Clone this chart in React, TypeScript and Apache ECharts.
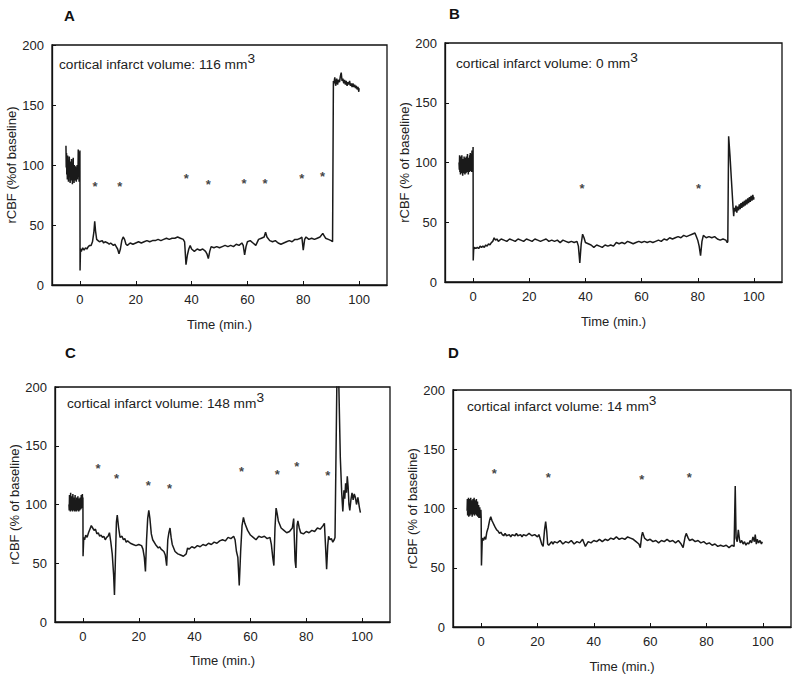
import React, { useEffect, useRef } from "react";
import * as echarts from "echarts";

// ---- Data (time in min, rCBF in % of baseline) ----
const traceA: [number, number][] = [
  [-5.0,116],[-4.9,98],[-4.8,110],[-4.7,92],[-4.6,105],[-4.5,88],[-4.4,108],[-4.3,95],[-4.2,102],[-4.1,86],[-4.0,104],[-3.9,93],[-3.8,107],[-3.7,90],[-3.6,100],[-3.5,85],[-3.4,103],[-3.3,94],[-3.2,99],[-3.1,87],[-3.0,105],[-2.9,92],[-2.8,101],[-2.7,84],[-2.6,98],[-2.5,90],[-2.4,106],[-2.3,88],[-2.2,97],[-2.1,85],[-2.0,100],[-1.9,91],[-1.8,96],[-1.7,87],[-1.6,99],[-1.5,89],[-1.4,95],[-1.3,86],[-1.2,98],[-1.1,92],[-1.0,100],[-0.9,88],[-0.8,96],[-0.7,90],[-0.6,113],[-0.5,92],[-0.4,111],[-0.3,86],[-0.2,104],[-0.1,94],[0.0,112],
  [0.05,12],[0.2,30],[0.5,28],[1,31],[1.5,29],[2,31],[2.5,30],[3,32],[3.5,33],[4,33],[4.5,36],[5,44],[5.3,53],[5.6,45],[6,38],[6.5,37],[7,36],[8,37],[8.5,35],[9,36],[10,35],[10.5,34],[11,35],[12,33],[12.5,34],[13,32],[13.5,30],[14,26],[14.5,30],[15,37],[15.5,40],[16,38],[16.5,34],[17,33],[18,35],[19,34],[20,35],[21,36],[22,35],[23,36],[24,37],[25,36],[26,37],[27,37],[28,38],[29,37],[30,38],[31,39],[32,38],[33,39],[34,39],[35,40],[36,39],[37,38],[37.5,36],[38,17],[38.5,25],[39,30],[39.5,33],[40,30],[41,28],[42,30],[43,29],[44,30],[45,28],[45.5,26],[46,22],[46.5,28],[47,32],[48,31],[49,32],[50,31],[51,32],[52,33],[53,32],[54,33],[55,32],[56,34],[57,33],[58,35],[58.5,33],[59,25],[59.5,32],[60,36],[61,37],[62,35],[63,33],[64,38],[65,39],[66,40],[66.5,44],[67,40],[68,37],[69,36],[70,37],[71,35],[72,34],[73,35],[74,36],[75,37],[76,36],[77,38],[78,38],[79,39],[79.5,40],[80,29],[80.5,38],[81,40],[82,38],[83,39],[84,38],[85,39],[86,40],[87,43],[87.5,41],[88,39],[89,38],[90,37],[90.5,36],
  [90.8,170],[91,168],[91.3,173],[91.6,166],[92,172],[92.3,167],[92.6,171],[93,169],[93.3,174],[93.6,177],[93.9,170],[94.2,172],[94.5,168],[94.8,171],[95.1,167],[95.4,170],[95.7,166],[96,169],[96.3,167],[96.6,170],[96.9,166],[97.2,168],[97.5,165],[97.8,168],[98.1,165],[98.4,167],[98.7,164],[99,166],[99.3,163],[99.6,165],[99.9,161],[100,164]
];
const starsA: [number, number][] = [[5.4,85],[14.3,85],[38.1,91],[46,86],[58.8,87],[66.3,87],[79.5,91],[86.9,93]];

const traceB: [number, number][] = [
  [-5.0,100],[-4.9,94],[-4.8,106],[-4.7,92],[-4.6,104],[-4.5,90],[-4.4,105],[-4.3,93],[-4.2,102],[-4.1,91],[-4.0,106],[-3.9,94],[-3.8,101],[-3.7,89],[-3.6,103],[-3.5,95],[-3.4,100],[-3.3,91],[-3.2,105],[-3.1,94],[-3.0,99],[-2.9,90],[-2.8,104],[-2.7,93],[-2.6,102],[-2.5,91],[-2.4,105],[-2.3,95],[-2.2,100],[-2.1,92],[-2.0,107],[-1.9,94],[-1.8,103],[-1.7,90],[-1.6,104],[-1.5,95],[-1.4,101],[-1.3,92],[-1.2,106],[-1.1,96],[-1.0,108],[-0.9,93],[-0.8,102],[-0.7,95],[-0.6,107],[-0.5,92],[-0.4,110],[-0.3,96],[-0.2,108],[-0.1,100],[0.0,113],
  [0.05,18],[0.2,27],[0.5,29],[1,28],[1.5,29],[2,28],[2.5,30],[3,29],[3.5,30],[4,29],[4.5,31],[5,30],[5.5,32],[6,31],[6.5,33],[7,34],[7.5,37],[8,35],[8.5,36],[9,34],[10,36],[11,35],[12,34],[13,36],[14,35],[15,34],[16,36],[17,35],[18,34],[19,36],[20,35],[21,34],[22,36],[23,35],[24,34],[25,35],[26,36],[27,34],[28,35],[29,34],[30,35],[31,33],[32,35],[33,34],[34,33],[35,34],[36,33],[37,34],[37.5,30],[38,16],[38.5,32],[39,40],[39.5,37],[40,33],[41,32],[42,31],[43,29],[44,31],[45,30],[46,29],[47,31],[48,30],[49,31],[50,30],[51,33],[52,32],[53,33],[54,32],[55,34],[56,33],[57,32],[58,33],[59,34],[60,33],[61,34],[62,33],[63,34],[64,33],[65,34],[66,35],[67,34],[68,36],[69,35],[70,37],[71,36],[72,37],[73,38],[74,37],[75,39],[76,38],[77,39],[78,40],[79,41],[79.5,38],[80,35],[80.5,30],[81,22],[81.5,34],[82,39],[83,37],[84,38],[85,37],[86,38],[87,36],[88,35],[89,36],[90,35],[90.5,33],
  [90.7,34],[91,122],[91.5,105],[92,85],[92.5,65],[92.8,55],[93,62],[93.3,59],[93.6,64],[93.9,58],[94.2,63],[94.5,60],[94.8,65],[95.1,61],[95.4,66],[95.7,62],[96,67],[96.3,63],[96.6,68],[96.9,64],[97.2,69],[97.5,65],[97.8,70],[98.1,66],[98.4,71],[98.7,67],[99,72],[99.3,68],[99.6,73],[99.9,69],[100,71]
];
const starsB: [number, number][] = [[38.8,81],[80.3,81]];

const traceC: [number, number][] = [
  [-5.0,100],[-4.9,95],[-4.8,108],[-4.7,96],[-4.6,104],[-4.5,94],[-4.4,110],[-4.3,97],[-4.2,105],[-4.1,95],[-4.0,107],[-3.9,96],[-3.8,103],[-3.7,94],[-3.6,109],[-3.5,98],[-3.4,104],[-3.3,95],[-3.2,106],[-3.1,97],[-3.0,102],[-2.9,94],[-2.8,108],[-2.7,96],[-2.6,103],[-2.5,95],[-2.4,100],[-2.3,94],[-2.2,106],[-2.1,97],[-2.0,104],[-1.9,95],[-1.8,107],[-1.7,96],[-1.6,102],[-1.5,94],[-1.4,105],[-1.3,97],[-1.2,101],[-1.1,95],[-1.0,106],[-0.9,98],[-0.8,103],[-0.7,96],[-0.6,108],[-0.5,99],[-0.4,104],[-0.3,97],[-0.2,109],[-0.1,101],[0.0,106],
  [0.05,56],[0.3,72],[0.6,70],[1,74],[1.5,72],[2,76],[2.5,79],[3,82],[3.5,80],[4,78],[4.5,79],[5,75],[5.5,76],[6,73],[6.5,74],[7,72],[7.5,73],[8,70],[8.5,72],[9,73],[9.5,76],[10,68],[10.5,58],[11,40],[11.3,23],[11.6,50],[12,85],[12.3,91],[12.8,80],[13.3,72],[14,73],[14.5,70],[15,71],[15.5,68],[16,69],[17,67],[18,66],[19,65],[20,66],[21,65],[21.5,62],[22,55],[22.4,43],[22.8,70],[23.2,88],[23.6,95],[24,88],[24.5,75],[25,70],[26,66],[27,63],[27.5,64],[28,62],[29,60],[29.5,57],[30,48],[30.4,70],[30.8,76],[31.2,80],[31.6,72],[32,66],[33,60],[34,58],[35,57],[36,56],[37,58],[37.5,63],[38,62],[39,64],[40,63],[41,65],[42,64],[43,66],[44,65],[45,67],[46,66],[47,68],[48,67],[49,69],[50,70],[51,69],[52,72],[53,71],[54,73],[54.5,70],[55,60],[55.5,55],[56,31],[56.5,60],[57,82],[57.5,89],[58,84],[59,78],[60,74],[61,72],[62,70],[63,73],[64,72],[65,73],[66,71],[67,72],[67.5,66],[68,55],[68.4,48],[68.8,80],[69.2,97],[69.6,92],[70,86],[71,80],[72,78],[73,76],[74,77],[75,80],[75.5,88],[76,52],[76.3,46],[76.7,82],[77,86],[77.5,80],[78,76],[79,75],[80,77],[81,76],[82,78],[83,77],[84,80],[85,79],[86,82],[86.5,84],[87,60],[87.3,45],[87.7,65],[88,73],[88.5,70],[89,71],[89.5,68],[90,70],[90.3,72],
  [90.6,130],[91,210],[91.6,210],[92.2,140],[92.7,110],[93.1,94],[93.5,112],[93.8,105],[94.1,118],[94.4,110],[94.7,124],[95,115],[95.3,100],[95.6,95],[96,104],[96.4,110],[96.8,104],[97.2,109],[97.6,106],[98,100],[98.5,106],[99,98],[99.4,93]
];
const starsC: [number, number][] = [[5.4,133],[12,125],[23.4,119],[31,116],[56.8,131],[69.6,128],[76.6,135],[87.7,127]];

const traceD: [number, number][] = [
  [-5.0,98],[-4.9,108],[-4.8,94],[-4.7,106],[-4.6,96],[-4.5,109],[-4.4,93],[-4.3,104],[-4.2,97],[-4.1,108],[-4.0,94],[-3.9,105],[-3.8,98],[-3.7,109],[-3.6,95],[-3.5,103],[-3.4,96],[-3.3,107],[-3.2,93],[-3.1,104],[-3.0,97],[-2.9,108],[-2.8,95],[-2.7,105],[-2.6,99],[-2.5,109],[-2.4,94],[-2.3,103],[-2.2,96],[-2.1,107],[-2.0,95],[-1.9,104],[-1.8,98],[-1.7,108],[-1.6,94],[-1.5,102],[-1.4,96],[-1.3,106],[-1.2,93],[-1.1,101],[-1.0,95],[-0.9,103],[-0.8,92],[-0.7,99],[-0.6,94],[-0.5,101],[-0.4,92],[-0.3,98],[-0.2,95],[-0.1,99],[0.0,92],
  [0.1,52],[0.4,75],[0.8,73],[1.2,76],[1.6,74],[2,80],[2.5,84],[3,90],[3.4,93],[3.8,90],[4.2,88],[4.6,86],[5,84],[5.5,82],[6,81],[6.5,79],[7,80],[7.5,78],[8,77],[8.5,79],[9,77],[10,78],[10.5,76],[11,78],[12,77],[12.5,79],[13,77],[14,78],[14.5,76],[15,78],[16,77],[17,79],[18,77],[19,78],[20,76],[20.5,78],[21,74],[21.5,70],[22,68],[22.5,82],[22.9,89],[23.3,80],[23.6,70],[24,69],[25,72],[25.5,70],[26,72],[27,71],[28,73],[29,70],[30,72],[31,71],[32,73],[33,70],[34,72],[35,71],[36,74],[37,68],[38,72],[39,71],[40,73],[41,72],[42,74],[43,72],[44,74],[45,73],[46,75],[47,74],[48,76],[49,74],[50,75],[51,74],[52,76],[53,75],[54,74],[55,72],[56,70],[56.5,67],[57,77],[57.3,80],[58,75],[59,73],[60,74],[61,72],[62,73],[63,71],[64,73],[65,72],[66,74],[67,72],[68,73],[69,71],[70,73],[71,70],[71.7,67],[72.4,76],[72.8,79],[73.5,75],[74,73],[75,74],[76,72],[77,73],[78,71],[79,72],[80,70],[81,71],[82,69],[83,70],[84,68],[85,69],[86,68],[87,69],[88,67],[89,69],[89.8,68],[90.2,119],[90.5,75],[90.9,72],[91.3,82],[91.7,74],[92,71],[92.5,73],[93,70],[93.5,72],[94,69],[94.5,71],[95,70],[95.5,73],[96,71],[96.5,76],[97,72],[97.3,78],[97.7,70],[98,74],[98.5,71],[99,73],[99.5,70],[99.8,72]
];
const starsD: [number, number][] = [[4.7,132],[23.8,129],[57,127],[73.9,129]];

const xTicks = [0, 20, 40, 60, 80, 100];
const panelLetters = ["A", "B", "C", "D"];
const infarctVolumes = ["116", "0", "148", "14"];
const yTitles = ["rCBF (%of baseline)", "rCBF (% of baseline)", "rCBF (% of baseline)", "rCBF (% of baseline)"];
const xTitle = "Time (min.)";

const traces = [traceA, traceB, traceC, traceD];
const stars = [starsA, starsB, starsC, starsD];

// layout
const grids = [
  { left: 52, top: 45, width: 335, height: 240 },
  { left: 445, top: 43, width: 337, height: 239 },
  { left: 55, top: 387, width: 335, height: 235 },
  { left: 453, top: 390, width: 338, height: 237 },
];
const yNameGaps = [31, 29, 33, 32];
const xNameGaps = [33, 33, 32, 33];
const letterPos = [[64, 8], [449, 6], [65, 345], [448, 345]];
const notePos = [[59, 51], [456, 50], [67, 390], [467, 393]];

const FONT = "'Liberation Sans', Arial, sans-serif";

export default function App() {
  const ref = useRef<HTMLDivElement>(null);
  useEffect(() => {
    if (!ref.current) return;
    const chart = echarts.init(ref.current, undefined, { renderer: "svg" });
    const axisLine = { show: true, onZero: false, lineStyle: { color: "#111", width: 1.3 } };
    const option: any = {
      animation: false,
      backgroundColor: "#fff",
      textStyle: { fontFamily: FONT },
      grid: grids.map((g) => ({
        ...g,
        show: true,
        borderColor: "#111",
        borderWidth: 1.3,
        backgroundColor: "transparent",
        containLabel: false,
        outerBoundsMode: "none",
      })),
      xAxis: grids.map((_, i) => ({
        type: "value",
        gridIndex: i,
        min: -10,
        max: 110,
        name: xTitle,
        nameLocation: "middle",
        nameGap: xNameGaps[i],
        nameTextStyle: { fontSize: 13, color: "#222", fontFamily: FONT },
        axisLine,
        axisTick: { show: true, inside: true, length: 4, lineStyle: { color: "#111" }, customValues: xTicks },
        axisLabel: { fontSize: 13, color: "#222", margin: 8, fontFamily: FONT, customValues: xTicks },
        splitLine: { show: false },
      })),
      yAxis: grids.map((_, i) => ({
        type: "value",
        gridIndex: i,
        min: 0,
        max: 200,
        interval: 50,
        name: yTitles[i],
        nameLocation: "middle",
        nameGap: yNameGaps[i],
        nameTextStyle: { fontSize: 13, color: "#222", fontFamily: FONT },
        axisLine,
        axisTick: { show: true, inside: true, length: 4, lineStyle: { color: "#111" } },
        axisLabel: { fontSize: 13, color: "#222", margin: 8, fontFamily: FONT },
        splitLine: { show: false },
      })),
      series: [
        ...traces.map((t, i) => ({
          type: "line",
          xAxisIndex: i,
          yAxisIndex: i,
          data: t,
          showSymbol: false,
          symbol: "none",
          clip: true,
          lineStyle: { color: "#1a1a1a", width: 1.5 },
        })),
        ...stars.map((s, i) => ({
          type: "scatter",
          xAxisIndex: i,
          yAxisIndex: i,
          data: s,
          symbolSize: 1,
          itemStyle: { color: "rgba(0,0,0,0)" },
          label: {
            show: true,
            position: "inside",
            formatter: "*",
            fontSize: 13,
            fontWeight: "bold",
            color: "#111",
            offset: [0, 3],
            fontFamily: FONT,
          },
        })),
      ],
      graphic: [
        ...panelLetters.map((l, i) => ({
          type: "text",
          x: letterPos[i][0],
          y: letterPos[i][1],
          style: { text: l, fontSize: 15, fontWeight: "bold", fill: "#111", fontFamily: FONT },
        })),
        ...infarctVolumes.map((v, i) => ({
          type: "text",
          x: notePos[i][0],
          y: notePos[i][1],
          style: {
            text: `{a|cortical infarct volume: ${v} mm}{s|3}`,
            fill: "#222",
            fontFamily: FONT,
            rich: {
              a: { fontSize: 13.7, lineHeight: 20, verticalAlign: "bottom", fill: "#222", fontFamily: FONT },
              s: { fontSize: 13.7, lineHeight: 20, verticalAlign: "top", fill: "#222", fontFamily: FONT },
            },
          },
        })),
      ],
    };
    chart.setOption(option);
    return () => chart.dispose();
  }, []);
  return <div ref={ref} style={{ position: "absolute", left: 0, top: 0, width: 800, height: 683 }} />;
}
